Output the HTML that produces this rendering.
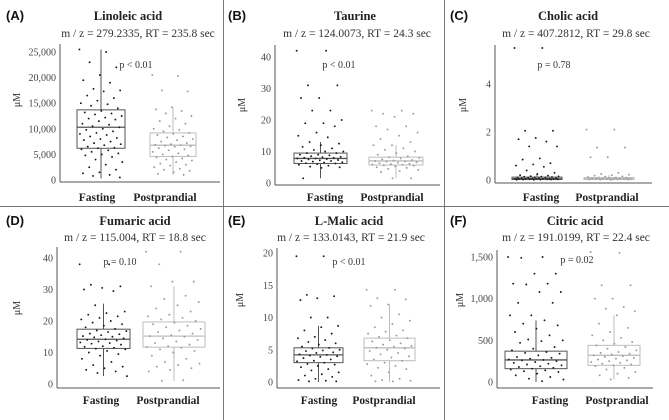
<!DOCTYPE html>
<html><head><meta charset="utf-8">
<style>
html,body{margin:0;padding:0;background:#fff;}
svg{display:block;}
.t{font-family:"Liberation Serif",serif;}
</style></head>
<body>
<svg id="fig" width="669" height="420" viewBox="0 0 669 420" xmlns="http://www.w3.org/2000/svg">
<line x1="223.5" y1="0" x2="223.5" y2="420" stroke="#777" stroke-width="1"/>
<line x1="444.5" y1="0" x2="444.5" y2="420" stroke="#777" stroke-width="1"/>
<line x1="0" y1="206.5" x2="669" y2="206.5" stroke="#777" stroke-width="1"/>
</svg>
<script>
// ---- data ----
const groups = ["Fasting","Postprandial"];
const titles = ["Linoleic acid","Taurine","Cholic acid","Fumaric acid","L-Malic acid","Citric acid"];
const subtitles = ["m / z = 279.2335, RT = 235.8 sec","m / z = 124.0073, RT = 24.3 sec","m / z = 407.2812, RT = 29.8 sec","m / z = 115.004, RT = 18.8 sec","m / z = 133.0143, RT = 21.9 sec","m / z = 191.0199, RT = 22.4 sec"];
const letters = ["(A)","(B)","(C)","(D)","(E)","(F)"];
const pvals = ["p < 0.01","p < 0.01","p = 0.78","p = 0.10","p < 0.01","p = 0.02"];
const ticksA = [0,5000,10000,15000,20000,25000];
const ticksB = [0,10,20,30,40];
const ticksC = [0,2,4];
const ticksD = [0,10,20,30,40];
const ticksE = [0,5,10,15,20];
const ticksF = [0,500,1000,1500];
// box stats: [low whisker, q1, median, q3, high whisker]
const boxA_f = [300,6200,10300,13700,25500];
const boxA_p = [1000,4600,6800,9200,14200];
const boxB_f = [1.5,6.2,7.8,9.5,13];
const boxB_p = [1.5,5.7,7.0,8.2,12];
const boxC_f = [0,0.02,0.05,0.12,0.25];
const boxC_p = [0,0.02,0.05,0.1,0.2];
const boxD_f = [2.5,11.3,14.2,17.4,25.5];
const boxD_p = [1,11.7,15.2,19.7,31];
const boxE_f = [0,3,4.2,5.3,8.7];
const boxE_p = [0,3.3,5.3,6.8,12];
const boxF_f = [0,160,265,370,740];
const boxF_p = [30,200,320,440,800];
// points
const ptsA_f = [25500,25000,23000,22000,20500,19500,19000,17800,17500,17300,16500,16000,15500,15000,14800,14500,14000,13500,13200,13000,12800,12500,12200,12000,11800,11500,11000,10800,10500,10300,10000,9800,9500,9200,9000,8800,8500,8200,8000,7800,7500,7200,7000,6800,6500,6300,6200,6000,5800,5500,5200,5000,4800,4500,4000,3500,3000,2500,2000,1500,1300,1000,800,500];
const ptsA_p = [20500,20300,17500,17300,14200,13800,13500,13000,12500,12000,11500,11000,10500,10000,9800,9500,9200,9000,8800,8500,8300,8000,7800,7500,7200,7000,6900,6800,6700,6600,6500,6200,6000,5800,5500,5200,5000,4800,4600,4400,4200,4000,3800,3500,3200,3000,2800,2500,2200,2000,1800,1500,1200,1000];
const ptsB_f = [42,42,31,31,27,27,23,23,20,19,19,18,16,15,14.5,13,12.5,12,11.5,11,10.5,10,10,9.5,9.5,9,9,8.8,8.5,8.3,8.2,8,8,7.8,7.8,7.6,7.5,7.3,7.2,7,7,6.8,6.6,6.5,6.3,6.2,6,5.8,5.5,5.2,5,4.8,1.5];
const ptsB_p = [23,23,22,22,21,18,18,17,16,15,14,13,12,12,11,10.5,10,9.5,9,8.5,8.2,8,7.8,7.5,7.3,7.1,7,6.9,6.8,6.6,6.5,6.3,6.1,6,5.9,5.8,5.6,5.5,5.3,5,4.8,4.5,4.2,3.8,3.5,1.5,1.5];
const ptsC_f = [5.5,5.5,2.05,2.05,1.75,1.7,1.6,1.4,1.4,0.9,0.85,0.7,0.65,0.6,0.55,0.4,0.3,0.25,0.2,0.18,0.16,0.15,0.14,0.13,0.12,0.11,0.1,0.1,0.09,0.08,0.08,0.07,0.06,0.06,0.05,0.05,0.05,0.04,0.04,0.04,0.03,0.03,0.03,0.02,0.02,0.02,0.01,0.01];
const ptsC_p = [2.1,2.1,1.35,1.35,0.95,0.95,0.3,0.25,0.22,0.2,0.18,0.15,0.14,0.12,0.1,0.1,0.09,0.08,0.07,0.06,0.06,0.05,0.05,0.05,0.04,0.04,0.03,0.03,0.02,0.02,0.01];
const ptsD_f = [38,38,31.5,31,30.5,30,29.5,25,23,22.5,22,21.5,21,20.5,20,19.5,19,18.5,18,17.5,17,16.8,16.5,16,15.8,15.5,15.2,15,14.8,14.5,14.2,14,13.8,13.5,13.2,13,12.8,12.5,12,11.8,11.5,11.2,11,10.5,10,9.5,9,8,7,6,5.5,5,4.5,4,3.5,2.5];
const ptsD_p = [42,42,38,32.5,32.5,31,28,27,26,25,24,23,22,21.5,21,20.5,20,19.5,19,18.5,18,17.5,17,16.5,16,15.5,15.2,15,14.5,14,13.5,13,12.5,12,11.8,11.5,11,10.5,10,9,8,7,6.5,6,5.5,5,4.5,4,1.2,1];
const ptsE_f = [19.5,19.5,13.5,13.3,13,12.7,10,10,8.7,8.5,8,7.5,7,6.8,6.5,6.2,6,5.8,5.5,5.3,5.2,5,4.9,4.8,4.6,4.5,4.3,4.2,4.1,4,3.9,3.7,3.5,3.3,3.2,3,2.8,2.7,2.5,2.3,2,1.8,1.5,1.2,1,0.8,0.5,0.3,0.2,0.1,0.1];
const ptsE_p = [14.3,14.3,13,12.8,12,11.8,10.5,10,9.5,9,8.5,8,7.8,7.5,7.2,7,6.8,6.5,6.3,6,5.8,5.6,5.5,5.3,5.2,5,4.8,4.5,4.3,4,3.8,3.5,3.3,3,2.8,2.5,2.2,2,1.5,1,0.5,0.3,0.2,0.1,0.1];
const ptsF_f = [1500,1500,1490,1300,1300,1180,1180,1170,1080,1080,950,950,800,800,740,700,680,640,600,560,510,500,490,470,420,400,380,360,350,340,320,300,290,280,270,265,260,250,240,230,220,210,200,190,180,170,160,150,140,130,120,100,80,60,40,30,10];
const ptsF_p = [1560,1550,1160,1160,1000,1000,900,880,850,800,700,650,600,560,530,500,480,460,440,420,400,380,360,350,340,330,320,310,300,290,280,270,260,250,240,230,220,210,200,190,170,150,120,100,80,50,30];

// ---- layout ----
const panels = [
 {ox:0,  ax:60, axR:220, y0:180, ymax:25000, y1:52, top:44, bot:182, bf:[77,125], bp:[150,196], lx:[97,165], ly:197, tx:128, sx:138, ty:16, sy:33, lab:20, laby:100, px:136, py:68, ticks:ticksA, box:[boxA_f,boxA_p], pts:[ptsA_f,ptsA_p]},
 {ox:222,ax:275,axR:440, y0:183, ymax:40, y1:57, top:45, bot:185, bf:[294,347], bp:[369,423], lx:[325,392], ly:197, tx:355, sx:357, ty:16, sy:33, lab:245, laby:105, px:339, py:68, ticks:ticksB, box:[boxB_f,boxB_p], pts:[ptsB_f,ptsB_p]},
 {ox:444,ax:495,axR:652, y0:180, ymax:4, y1:84, top:45, bot:183, bf:[512,562], bp:[584,634], lx:[541,607], ly:197, tx:568, sx:576, ty:16, sy:33, lab:466, laby:105, px:554, py:68, ticks:ticksC, box:[boxC_f,boxC_p], pts:[ptsC_f,ptsC_p]},
 {ox:0,  ax:57, axR:220, y0:384, ymax:40, y1:258, top:247, bot:388, bf:[77,130], bp:[143,205], lx:[101,168], ly:400, tx:135, sx:135, ty:221, sy:237, lab:20, laby:308, px:120, py:265, ticks:ticksD, box:[boxD_f,boxD_p], pts:[ptsD_f,ptsD_p]},
 {ox:222,ax:277,axR:440, y0:382, ymax:20, y1:253, top:248, bot:388, bf:[294,343], bp:[364,415], lx:[319,384], ly:400, tx:349, sx:351, ty:221, sy:237, lab:243, laby:300, px:349, py:265, ticks:ticksE, box:[boxE_f,boxE_p], pts:[ptsE_f,ptsE_p]},
 {ox:444,ax:497,axR:653, y0:382, ymax:1500, y1:257, top:250, bot:388, bf:[505,567], bp:[588,640], lx:[550,617], ly:400, tx:575, sx:576, ty:221, sy:237, lab:463, laby:300, px:577, py:263, ticks:ticksF, box:[boxF_f,boxF_p], pts:[ptsF_f,ptsF_p]}
];
const NS="http://www.w3.org/2000/svg";
const svg=document.getElementById('fig');
function mk(tag,attrs,parent){const e=document.createElementNS(NS,tag);for(const k in attrs)e.setAttribute(k,attrs[k]);(parent||svg).appendChild(e);return e;}
const fmt=v=>v>=1000?v.toLocaleString('en-US'):String(v);
const ptCol=["#1a1a1a","#9a9a9a"], boxCol=["#555","#bdbdbd"];

panels.forEach((P,pi)=>{
 const g=mk('g',{});
 
 
 const yS=v=>P.y0-(v/P.ymax)*(P.y0-P.y1);
 let t=mk('text',{x:P.ox+6,y:P.ty+4,'font-family':'Liberation Sans, sans-serif','font-weight':'bold','font-size':13,fill:'#111'},g);
 t.textContent=letters[pi];
 
 
 t=mk('text',{x:P.tx,y:P.ty+4,'text-anchor':'middle',class:'t','font-weight':'bold','font-size':12.5,fill:'#222'},g);
 t.textContent=titles[pi];
 
 
 t=mk('text',{x:P.sx,y:P.sy+4,'text-anchor':'middle',class:'t','font-size':11.5,fill:'#333'},g);
 t.textContent=subtitles[pi];
 
 
 let l=mk('line',{x1:P.ax,y1:P.top,x2:P.ax,y2:P.bot,stroke:'#555','stroke-width':1},g);
 
 
 l=mk('line',{x1:P.ax,y1:P.bot,x2:P.axR,y2:P.bot,stroke:'#555','stroke-width':1},g);
 
 
 P.ticks.forEach(v=>{
  const tt=mk('text',{x:P.ax-4,y:yS(v)+3.5,'text-anchor':'end',class:'t','font-size':10,fill:'#444'},g);
  tt.textContent=fmt(v);
  
  
 });
 t=mk('text',{x:P.lab,y:P.laby,'text-anchor':'middle',class:'t','font-size':10,fill:'#333',transform:`rotate(-90 ${P.lab} ${P.laby})`},g);
 t.textContent='μM';
 
 
 [P.bf,P.bp].forEach((bx,gi)=>{
  const b=P.box[gi], cx=(bx[0]+bx[1])/2;
  const bg=mk('g',{},g);
  
  
  mk('line',{x1:cx,y1:yS(b[0]),x2:cx,y2:yS(b[4]),stroke:boxCol[gi],'stroke-width':1},bg);
  mk('rect',{x:bx[0],y:yS(b[3]),width:bx[1]-bx[0],height:yS(b[1])-yS(b[3]),fill:'#fff',stroke:boxCol[gi],'stroke-width':1},bg);
  mk('line',{x1:bx[0],y1:yS(b[2]),x2:bx[1],y2:yS(b[2]),stroke:boxCol[gi],'stroke-width':1.3},bg);
  const w=bx[1]-bx[0];
  P.pts[gi].forEach((v,i)=>{
   const j=(((i*0.618034)%1)-0.5)*w*0.9;
   const c=mk('circle',{cx:cx+j,cy:yS(v),r:0.95,fill:ptCol[gi]},bg);
   
   
  });
  const xl=mk('text',{x:P.lx[gi],y:P.ly+4,'text-anchor':'middle',class:'t','font-weight':'bold','font-size':11.5,fill:'#222'},g);
  xl.textContent=groups[gi];
  
  
 });
 t=mk('text',{x:P.px,y:P.py,'text-anchor':'middle',class:'t','font-size':10,fill:'#333'},g);
 t.textContent=pvals[pi];
 
 
});
</script>
</body></html>
